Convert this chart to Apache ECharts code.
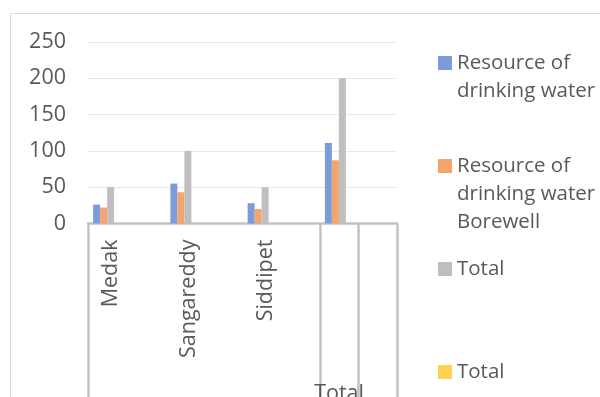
<!DOCTYPE html>
<html><head><meta charset="utf-8">
<script src="https://cdn.jsdelivr.net/npm/echarts@6/dist/echarts.min.js"></script>
<style>html,body{margin:0;padding:0;background:#fff}#c{width:600px;height:397px}</style>
</head><body><div id="c"></div>
<script>
// ---- data ----
const categories = ['Medak', 'Sangareddy', 'Siddipet', 'Total'];
const drinkingWater = [26, 55, 28, 111];
const borewell = [22, 43, 20, 87];
const totalCount = [50, 100, 50, 200];
const totalYellow = [];
const yTicks = [0, 50, 100, 150, 200, 250];
const seriesNames = ['Resource of drinking water', 'Resource of drinking water Borewell', 'Total', 'Total'];
const legendLines = [['Resource of', 'drinking water'], ['Resource of', 'drinking water', 'Borewell'], ['Total'], ['Total']];

// ---- style ----
const FONT = "'Open Sans', sans-serif";
const TXT = '#595959';
const colors = ['#7b9cdb', '#f4a46d', '#bfbfbf', '#ffd24f'];
const LINE = '#c2c2c2';
const LH = 28;
const FS = 21.5;
const LFS = 20.5;
const iconTops = [56, 159, 262, 365];

const subSlots = categories.flatMap(c => [c, '']);
const lastCat = categories[categories.length - 1];
const lastStart = 2 * (categories.length - 1);

const legends = seriesNames.map((name, i) => {
  const n = legendLines[i].length;
  const h = n * LH;
  // square marker aligned with the first text line
  const icon = 'path://M0,0h0.01M0,' + (LH / 2 - 7) + 'H14V' + (LH / 2 + 7) + 'H0ZM0,' + h + 'h0.01';
  return {
    orient: 'vertical', left: 438, top: iconTops[i] - (LH / 2 - 7), padding: 0,
    icon: icon, symbolKeepAspect: false, itemWidth: 14, itemHeight: h, itemGap: 0, selectedMode: false,
    data: [{ name: name, itemStyle: { color: colors[i] } }],
    formatter: () => legendLines[i].join('\n'),
    textStyle: { fontFamily: FONT, fontSize: LFS, color: TXT, lineHeight: LH }
  };
});

const chart = echarts.init(document.getElementById('c'), null, { renderer: 'canvas' });
chart.setOption({
  animation: false,
  backgroundColor: '#fff',
  graphic: [{ type: 'rect', z: -10, shape: { x: 10.5, y: 13.5, width: 800, height: 600 },
    style: { fill: 'none', stroke: '#d9d9d9', lineWidth: 1 } }],
  legend: legends,
  grid: { left: 88, right: 203, top: 42, bottom: 173.5, containLabel: false, outerBoundsMode: 'none' },
  yAxis: {
    type: 'value', min: yTicks[0], max: yTicks[yTicks.length - 1], interval: yTicks[1] - yTicks[0],
    axisLine: { show: false }, axisTick: { show: false },
    axisLabel: { fontFamily: FONT, fontSize: FS, color: TXT, margin: 22 },
    splitLine: { lineStyle: { color: '#e8e8e8', width: 1 } }
  },
  xAxis: [
    { type: 'category', data: categories, position: 'bottom',
      axisLine: { lineStyle: { color: LINE, width: 2.5 } }, axisTick: { show: false },
      axisLabel: { show: false }, splitLine: { show: false } },
    { type: 'category', data: subSlots, position: 'bottom',
      axisLine: { show: false },
      axisTick: { show: true, interval: (i) => i === 0 || i === lastStart || i === lastStart + 1,
        length: 180, lineStyle: { color: LINE, width: 2.5 } },
      axisLabel: { interval: 0, rotate: 90, margin: 16, lineHeight: 8, fontFamily: FONT, fontSize: FS, color: TXT,
        formatter: v => (v === lastCat || v === '' ? '' : '\n' + v) } },
    { type: 'category', data: subSlots, position: 'bottom',
      axisLine: { show: false }, axisTick: { show: false },
      axisLabel: { interval: 0, margin: 159, fontFamily: FONT, fontSize: FS, color: TXT,
        formatter: v => (v === lastCat ? v : '') } }
  ],
  series: [
    { name: seriesNames[0], type: 'bar', xAxisIndex: 0, data: drinkingWater, barWidth: 7, barGap: '0%', itemStyle: { color: colors[0] } },
    { name: seriesNames[1], type: 'bar', xAxisIndex: 0, data: borewell, barWidth: 7, barGap: '0%', itemStyle: { color: colors[1] } },
    { name: seriesNames[2], type: 'bar', xAxisIndex: 0, data: totalCount, barWidth: 7, barGap: '0%', itemStyle: { color: colors[2] } },
    { name: seriesNames[3], type: 'bar', xAxisIndex: 0, data: totalYellow, barWidth: 7, barGap: '0%', itemStyle: { color: colors[3] } },
    { name: 'spacer', type: 'bar', xAxisIndex: 0, data: [], barWidth: 39, barGap: '0%', silent: true }
  ]
});
</script></body></html>
